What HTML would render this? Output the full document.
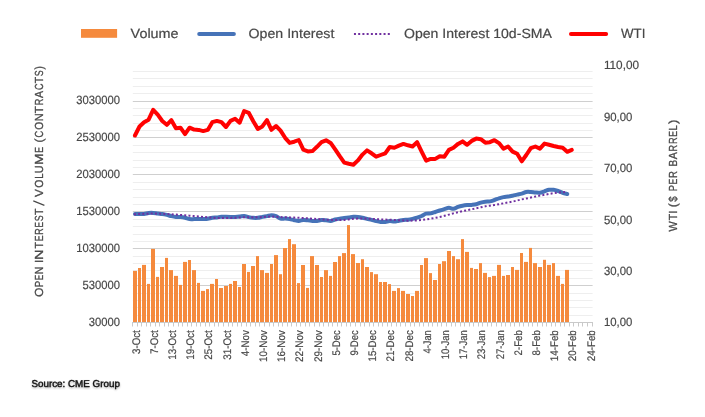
<!DOCTYPE html><html><head><meta charset="utf-8"><title>chart</title>
<style>html,body{margin:0;padding:0;background:#fff;overflow:hidden}svg{display:block}text{font-family:"Liberation Sans",sans-serif;text-rendering:geometricPrecision;stroke:#484848;stroke-width:0.2px}</style></head><body>
<svg width="705" height="417" viewBox="0 0 705 417">
<rect width="705" height="417" fill="#fff"/>
<line x1="132.8" x2="592.6" y1="71.5" y2="71.5" stroke="#eeeeee" stroke-width="1"/>
<line x1="132.8" x2="592.6" y1="78.5" y2="78.5" stroke="#eeeeee" stroke-width="1"/>
<line x1="132.8" x2="592.6" y1="86.5" y2="86.5" stroke="#eeeeee" stroke-width="1"/>
<line x1="132.8" x2="592.6" y1="93.5" y2="93.5" stroke="#eeeeee" stroke-width="1"/>
<line x1="132.8" x2="592.6" y1="101.5" y2="101.5" stroke="#cfcfcf" stroke-width="1"/>
<line x1="132.8" x2="592.6" y1="108.5" y2="108.5" stroke="#eeeeee" stroke-width="1"/>
<line x1="132.8" x2="592.6" y1="115.5" y2="115.5" stroke="#eeeeee" stroke-width="1"/>
<line x1="132.8" x2="592.6" y1="123.5" y2="123.5" stroke="#eeeeee" stroke-width="1"/>
<line x1="132.8" x2="592.6" y1="130.5" y2="130.5" stroke="#eeeeee" stroke-width="1"/>
<line x1="132.8" x2="592.6" y1="137.5" y2="137.5" stroke="#cfcfcf" stroke-width="1"/>
<line x1="132.8" x2="592.6" y1="145.5" y2="145.5" stroke="#eeeeee" stroke-width="1"/>
<line x1="132.8" x2="592.6" y1="152.5" y2="152.5" stroke="#eeeeee" stroke-width="1"/>
<line x1="132.8" x2="592.6" y1="160.5" y2="160.5" stroke="#eeeeee" stroke-width="1"/>
<line x1="132.8" x2="592.6" y1="167.5" y2="167.5" stroke="#eeeeee" stroke-width="1"/>
<line x1="132.8" x2="592.6" y1="174.5" y2="174.5" stroke="#cfcfcf" stroke-width="1"/>
<line x1="132.8" x2="592.6" y1="182.5" y2="182.5" stroke="#eeeeee" stroke-width="1"/>
<line x1="132.8" x2="592.6" y1="189.5" y2="189.5" stroke="#eeeeee" stroke-width="1"/>
<line x1="132.8" x2="592.6" y1="197.5" y2="197.5" stroke="#eeeeee" stroke-width="1"/>
<line x1="132.8" x2="592.6" y1="204.5" y2="204.5" stroke="#eeeeee" stroke-width="1"/>
<line x1="132.8" x2="592.6" y1="211.5" y2="211.5" stroke="#cfcfcf" stroke-width="1"/>
<line x1="132.8" x2="592.6" y1="219.5" y2="219.5" stroke="#eeeeee" stroke-width="1"/>
<line x1="132.8" x2="592.6" y1="226.5" y2="226.5" stroke="#eeeeee" stroke-width="1"/>
<line x1="132.8" x2="592.6" y1="234.5" y2="234.5" stroke="#eeeeee" stroke-width="1"/>
<line x1="132.8" x2="592.6" y1="241.5" y2="241.5" stroke="#eeeeee" stroke-width="1"/>
<line x1="132.8" x2="592.6" y1="248.5" y2="248.5" stroke="#cfcfcf" stroke-width="1"/>
<line x1="132.8" x2="592.6" y1="256.5" y2="256.5" stroke="#eeeeee" stroke-width="1"/>
<line x1="132.8" x2="592.6" y1="263.5" y2="263.5" stroke="#eeeeee" stroke-width="1"/>
<line x1="132.8" x2="592.6" y1="270.5" y2="270.5" stroke="#eeeeee" stroke-width="1"/>
<line x1="132.8" x2="592.6" y1="278.5" y2="278.5" stroke="#eeeeee" stroke-width="1"/>
<line x1="132.8" x2="592.6" y1="285.5" y2="285.5" stroke="#cfcfcf" stroke-width="1"/>
<line x1="132.8" x2="592.6" y1="293.5" y2="293.5" stroke="#eeeeee" stroke-width="1"/>
<line x1="132.8" x2="592.6" y1="300.5" y2="300.5" stroke="#eeeeee" stroke-width="1"/>
<line x1="132.8" x2="592.6" y1="307.5" y2="307.5" stroke="#eeeeee" stroke-width="1"/>
<line x1="132.8" x2="592.6" y1="315.5" y2="315.5" stroke="#eeeeee" stroke-width="1"/>
<rect x="133" y="270.9" width="4" height="51.1" fill="#F58A3D"/>
<rect x="138" y="268.0" width="3" height="54.0" fill="#F58A3D"/>
<rect x="142" y="264.9" width="4" height="57.1" fill="#F58A3D"/>
<rect x="147" y="283.9" width="3" height="38.1" fill="#F58A3D"/>
<rect x="151" y="248.9" width="4" height="73.1" fill="#F58A3D"/>
<rect x="156" y="276.9" width="3" height="45.1" fill="#F58A3D"/>
<rect x="160" y="267.0" width="4" height="55.0" fill="#F58A3D"/>
<rect x="165" y="257.9" width="3" height="64.1" fill="#F58A3D"/>
<rect x="169" y="270.1" width="4" height="51.9" fill="#F58A3D"/>
<rect x="174" y="275.9" width="4" height="46.1" fill="#F58A3D"/>
<rect x="179" y="284.9" width="3" height="37.1" fill="#F58A3D"/>
<rect x="183" y="261.9" width="4" height="60.1" fill="#F58A3D"/>
<rect x="188" y="260.0" width="3" height="62.0" fill="#F58A3D"/>
<rect x="192" y="270.1" width="4" height="51.9" fill="#F58A3D"/>
<rect x="197" y="282.9" width="3" height="39.1" fill="#F58A3D"/>
<rect x="201" y="290.9" width="4" height="31.1" fill="#F58A3D"/>
<rect x="206" y="289.1" width="3" height="32.9" fill="#F58A3D"/>
<rect x="210" y="283.9" width="4" height="38.1" fill="#F58A3D"/>
<rect x="215" y="279.0" width="3" height="43.0" fill="#F58A3D"/>
<rect x="219" y="288.0" width="4" height="34.0" fill="#F58A3D"/>
<rect x="224" y="286.0" width="4" height="36.0" fill="#F58A3D"/>
<rect x="229" y="283.9" width="3" height="38.1" fill="#F58A3D"/>
<rect x="233" y="281.0" width="4" height="41.0" fill="#F58A3D"/>
<rect x="238" y="287.0" width="3" height="35.0" fill="#F58A3D"/>
<rect x="242" y="264.0" width="4" height="58.0" fill="#F58A3D"/>
<rect x="247" y="271.9" width="3" height="50.1" fill="#F58A3D"/>
<rect x="251" y="266.0" width="4" height="56.0" fill="#F58A3D"/>
<rect x="256" y="256.1" width="3" height="65.9" fill="#F58A3D"/>
<rect x="260" y="270.1" width="4" height="51.9" fill="#F58A3D"/>
<rect x="265" y="272.9" width="4" height="49.1" fill="#F58A3D"/>
<rect x="270" y="264.0" width="3" height="58.0" fill="#F58A3D"/>
<rect x="274" y="255.1" width="4" height="66.9" fill="#F58A3D"/>
<rect x="279" y="274.2" width="3" height="47.8" fill="#F58A3D"/>
<rect x="283" y="248.0" width="4" height="74.0" fill="#F58A3D"/>
<rect x="288" y="239.1" width="3" height="82.9" fill="#F58A3D"/>
<rect x="292" y="244.2" width="4" height="77.8" fill="#F58A3D"/>
<rect x="297" y="283.1" width="3" height="38.9" fill="#F58A3D"/>
<rect x="301" y="265.0" width="4" height="57.0" fill="#F58A3D"/>
<rect x="306" y="287.9" width="3" height="34.1" fill="#F58A3D"/>
<rect x="310" y="256.1" width="4" height="65.9" fill="#F58A3D"/>
<rect x="315" y="265.0" width="4" height="57.0" fill="#F58A3D"/>
<rect x="320" y="277.0" width="3" height="45.0" fill="#F58A3D"/>
<rect x="324" y="270.1" width="4" height="51.9" fill="#F58A3D"/>
<rect x="329" y="275.9" width="3" height="46.1" fill="#F58A3D"/>
<rect x="333" y="262.0" width="4" height="60.0" fill="#F58A3D"/>
<rect x="338" y="256.1" width="3" height="65.9" fill="#F58A3D"/>
<rect x="342" y="253.1" width="4" height="68.9" fill="#F58A3D"/>
<rect x="347" y="225.1" width="3" height="96.9" fill="#F58A3D"/>
<rect x="351" y="254.1" width="4" height="67.9" fill="#F58A3D"/>
<rect x="356" y="263.0" width="4" height="59.0" fill="#F58A3D"/>
<rect x="361" y="259.2" width="3" height="62.8" fill="#F58A3D"/>
<rect x="365" y="267.0" width="4" height="55.0" fill="#F58A3D"/>
<rect x="370" y="272.1" width="3" height="49.9" fill="#F58A3D"/>
<rect x="374" y="274.2" width="4" height="47.8" fill="#F58A3D"/>
<rect x="379" y="282.0" width="3" height="40.0" fill="#F58A3D"/>
<rect x="383" y="282.0" width="4" height="40.0" fill="#F58A3D"/>
<rect x="388" y="284.1" width="3" height="37.9" fill="#F58A3D"/>
<rect x="392" y="290.9" width="4" height="31.1" fill="#F58A3D"/>
<rect x="397" y="288.1" width="3" height="33.9" fill="#F58A3D"/>
<rect x="401" y="290.9" width="4" height="31.1" fill="#F58A3D"/>
<rect x="406" y="294.0" width="4" height="28.0" fill="#F58A3D"/>
<rect x="411" y="296.0" width="3" height="26.0" fill="#F58A3D"/>
<rect x="415" y="290.9" width="4" height="31.1" fill="#F58A3D"/>
<rect x="420" y="265.0" width="3" height="57.0" fill="#F58A3D"/>
<rect x="424" y="258.1" width="4" height="63.9" fill="#F58A3D"/>
<rect x="429" y="273.1" width="3" height="48.9" fill="#F58A3D"/>
<rect x="433" y="280.0" width="4" height="42.0" fill="#F58A3D"/>
<rect x="438" y="264.0" width="3" height="58.0" fill="#F58A3D"/>
<rect x="442" y="261.2" width="4" height="60.8" fill="#F58A3D"/>
<rect x="447" y="251.0" width="4" height="71.0" fill="#F58A3D"/>
<rect x="452" y="256.1" width="3" height="65.9" fill="#F58A3D"/>
<rect x="456" y="259.2" width="4" height="62.8" fill="#F58A3D"/>
<rect x="461" y="239.1" width="3" height="82.9" fill="#F58A3D"/>
<rect x="465" y="251.9" width="4" height="70.1" fill="#F58A3D"/>
<rect x="470" y="267.9" width="3" height="54.1" fill="#F58A3D"/>
<rect x="474" y="269.0" width="4" height="53.0" fill="#F58A3D"/>
<rect x="479" y="263.1" width="3" height="58.9" fill="#F58A3D"/>
<rect x="483" y="272.9" width="4" height="49.1" fill="#F58A3D"/>
<rect x="488" y="277.1" width="3" height="44.9" fill="#F58A3D"/>
<rect x="492" y="275.9" width="4" height="46.1" fill="#F58A3D"/>
<rect x="497" y="264.9" width="4" height="57.1" fill="#F58A3D"/>
<rect x="502" y="275.9" width="3" height="46.1" fill="#F58A3D"/>
<rect x="506" y="275.0" width="4" height="47.0" fill="#F58A3D"/>
<rect x="511" y="267.0" width="3" height="55.0" fill="#F58A3D"/>
<rect x="515" y="269.9" width="4" height="52.1" fill="#F58A3D"/>
<rect x="520" y="253.0" width="3" height="69.0" fill="#F58A3D"/>
<rect x="524" y="261.9" width="4" height="60.1" fill="#F58A3D"/>
<rect x="529" y="247.9" width="3" height="74.1" fill="#F58A3D"/>
<rect x="533" y="263.1" width="4" height="58.9" fill="#F58A3D"/>
<rect x="538" y="267.0" width="4" height="55.0" fill="#F58A3D"/>
<rect x="543" y="259.8" width="3" height="62.2" fill="#F58A3D"/>
<rect x="547" y="264.9" width="4" height="57.1" fill="#F58A3D"/>
<rect x="552" y="263.1" width="3" height="58.9" fill="#F58A3D"/>
<rect x="556" y="275.9" width="4" height="46.1" fill="#F58A3D"/>
<rect x="561" y="283.9" width="3" height="38.1" fill="#F58A3D"/>
<rect x="565" y="269.9" width="4" height="52.1" fill="#F58A3D"/>
<line x1="132.0" x2="592.6" y1="322.5" y2="322.5" stroke="#c9c9c9" stroke-width="1"/>
<line x1="132.5" x2="132.5" y1="322.0" y2="326.5" stroke="#c9c9c9" stroke-width="1"/>
<line x1="137.5" x2="137.5" y1="322.0" y2="326.5" stroke="#c9c9c9" stroke-width="1"/>
<line x1="141.5" x2="141.5" y1="322.0" y2="326.5" stroke="#c9c9c9" stroke-width="1"/>
<line x1="146.5" x2="146.5" y1="322.0" y2="326.5" stroke="#c9c9c9" stroke-width="1"/>
<line x1="150.5" x2="150.5" y1="322.0" y2="326.5" stroke="#c9c9c9" stroke-width="1"/>
<line x1="155.5" x2="155.5" y1="322.0" y2="326.5" stroke="#c9c9c9" stroke-width="1"/>
<line x1="159.5" x2="159.5" y1="322.0" y2="326.5" stroke="#c9c9c9" stroke-width="1"/>
<line x1="164.5" x2="164.5" y1="322.0" y2="326.5" stroke="#c9c9c9" stroke-width="1"/>
<line x1="168.5" x2="168.5" y1="322.0" y2="326.5" stroke="#c9c9c9" stroke-width="1"/>
<line x1="173.5" x2="173.5" y1="322.0" y2="326.5" stroke="#c9c9c9" stroke-width="1"/>
<line x1="178.5" x2="178.5" y1="322.0" y2="326.5" stroke="#c9c9c9" stroke-width="1"/>
<line x1="182.5" x2="182.5" y1="322.0" y2="326.5" stroke="#c9c9c9" stroke-width="1"/>
<line x1="187.5" x2="187.5" y1="322.0" y2="326.5" stroke="#c9c9c9" stroke-width="1"/>
<line x1="191.5" x2="191.5" y1="322.0" y2="326.5" stroke="#c9c9c9" stroke-width="1"/>
<line x1="196.5" x2="196.5" y1="322.0" y2="326.5" stroke="#c9c9c9" stroke-width="1"/>
<line x1="200.5" x2="200.5" y1="322.0" y2="326.5" stroke="#c9c9c9" stroke-width="1"/>
<line x1="205.5" x2="205.5" y1="322.0" y2="326.5" stroke="#c9c9c9" stroke-width="1"/>
<line x1="209.5" x2="209.5" y1="322.0" y2="326.5" stroke="#c9c9c9" stroke-width="1"/>
<line x1="214.5" x2="214.5" y1="322.0" y2="326.5" stroke="#c9c9c9" stroke-width="1"/>
<line x1="218.5" x2="218.5" y1="322.0" y2="326.5" stroke="#c9c9c9" stroke-width="1"/>
<line x1="223.5" x2="223.5" y1="322.0" y2="326.5" stroke="#c9c9c9" stroke-width="1"/>
<line x1="228.5" x2="228.5" y1="322.0" y2="326.5" stroke="#c9c9c9" stroke-width="1"/>
<line x1="232.5" x2="232.5" y1="322.0" y2="326.5" stroke="#c9c9c9" stroke-width="1"/>
<line x1="237.5" x2="237.5" y1="322.0" y2="326.5" stroke="#c9c9c9" stroke-width="1"/>
<line x1="241.5" x2="241.5" y1="322.0" y2="326.5" stroke="#c9c9c9" stroke-width="1"/>
<line x1="246.5" x2="246.5" y1="322.0" y2="326.5" stroke="#c9c9c9" stroke-width="1"/>
<line x1="250.5" x2="250.5" y1="322.0" y2="326.5" stroke="#c9c9c9" stroke-width="1"/>
<line x1="255.5" x2="255.5" y1="322.0" y2="326.5" stroke="#c9c9c9" stroke-width="1"/>
<line x1="259.5" x2="259.5" y1="322.0" y2="326.5" stroke="#c9c9c9" stroke-width="1"/>
<line x1="264.5" x2="264.5" y1="322.0" y2="326.5" stroke="#c9c9c9" stroke-width="1"/>
<line x1="269.5" x2="269.5" y1="322.0" y2="326.5" stroke="#c9c9c9" stroke-width="1"/>
<line x1="273.5" x2="273.5" y1="322.0" y2="326.5" stroke="#c9c9c9" stroke-width="1"/>
<line x1="278.5" x2="278.5" y1="322.0" y2="326.5" stroke="#c9c9c9" stroke-width="1"/>
<line x1="282.5" x2="282.5" y1="322.0" y2="326.5" stroke="#c9c9c9" stroke-width="1"/>
<line x1="287.5" x2="287.5" y1="322.0" y2="326.5" stroke="#c9c9c9" stroke-width="1"/>
<line x1="291.5" x2="291.5" y1="322.0" y2="326.5" stroke="#c9c9c9" stroke-width="1"/>
<line x1="296.5" x2="296.5" y1="322.0" y2="326.5" stroke="#c9c9c9" stroke-width="1"/>
<line x1="300.5" x2="300.5" y1="322.0" y2="326.5" stroke="#c9c9c9" stroke-width="1"/>
<line x1="305.5" x2="305.5" y1="322.0" y2="326.5" stroke="#c9c9c9" stroke-width="1"/>
<line x1="309.5" x2="309.5" y1="322.0" y2="326.5" stroke="#c9c9c9" stroke-width="1"/>
<line x1="314.5" x2="314.5" y1="322.0" y2="326.5" stroke="#c9c9c9" stroke-width="1"/>
<line x1="319.5" x2="319.5" y1="322.0" y2="326.5" stroke="#c9c9c9" stroke-width="1"/>
<line x1="323.5" x2="323.5" y1="322.0" y2="326.5" stroke="#c9c9c9" stroke-width="1"/>
<line x1="328.5" x2="328.5" y1="322.0" y2="326.5" stroke="#c9c9c9" stroke-width="1"/>
<line x1="332.5" x2="332.5" y1="322.0" y2="326.5" stroke="#c9c9c9" stroke-width="1"/>
<line x1="337.5" x2="337.5" y1="322.0" y2="326.5" stroke="#c9c9c9" stroke-width="1"/>
<line x1="341.5" x2="341.5" y1="322.0" y2="326.5" stroke="#c9c9c9" stroke-width="1"/>
<line x1="346.5" x2="346.5" y1="322.0" y2="326.5" stroke="#c9c9c9" stroke-width="1"/>
<line x1="350.5" x2="350.5" y1="322.0" y2="326.5" stroke="#c9c9c9" stroke-width="1"/>
<line x1="355.5" x2="355.5" y1="322.0" y2="326.5" stroke="#c9c9c9" stroke-width="1"/>
<line x1="360.5" x2="360.5" y1="322.0" y2="326.5" stroke="#c9c9c9" stroke-width="1"/>
<line x1="364.5" x2="364.5" y1="322.0" y2="326.5" stroke="#c9c9c9" stroke-width="1"/>
<line x1="369.5" x2="369.5" y1="322.0" y2="326.5" stroke="#c9c9c9" stroke-width="1"/>
<line x1="373.5" x2="373.5" y1="322.0" y2="326.5" stroke="#c9c9c9" stroke-width="1"/>
<line x1="378.5" x2="378.5" y1="322.0" y2="326.5" stroke="#c9c9c9" stroke-width="1"/>
<line x1="382.5" x2="382.5" y1="322.0" y2="326.5" stroke="#c9c9c9" stroke-width="1"/>
<line x1="387.5" x2="387.5" y1="322.0" y2="326.5" stroke="#c9c9c9" stroke-width="1"/>
<line x1="391.5" x2="391.5" y1="322.0" y2="326.5" stroke="#c9c9c9" stroke-width="1"/>
<line x1="396.5" x2="396.5" y1="322.0" y2="326.5" stroke="#c9c9c9" stroke-width="1"/>
<line x1="400.5" x2="400.5" y1="322.0" y2="326.5" stroke="#c9c9c9" stroke-width="1"/>
<line x1="405.5" x2="405.5" y1="322.0" y2="326.5" stroke="#c9c9c9" stroke-width="1"/>
<line x1="410.5" x2="410.5" y1="322.0" y2="326.5" stroke="#c9c9c9" stroke-width="1"/>
<line x1="414.5" x2="414.5" y1="322.0" y2="326.5" stroke="#c9c9c9" stroke-width="1"/>
<line x1="419.5" x2="419.5" y1="322.0" y2="326.5" stroke="#c9c9c9" stroke-width="1"/>
<line x1="423.5" x2="423.5" y1="322.0" y2="326.5" stroke="#c9c9c9" stroke-width="1"/>
<line x1="428.5" x2="428.5" y1="322.0" y2="326.5" stroke="#c9c9c9" stroke-width="1"/>
<line x1="432.5" x2="432.5" y1="322.0" y2="326.5" stroke="#c9c9c9" stroke-width="1"/>
<line x1="437.5" x2="437.5" y1="322.0" y2="326.5" stroke="#c9c9c9" stroke-width="1"/>
<line x1="441.5" x2="441.5" y1="322.0" y2="326.5" stroke="#c9c9c9" stroke-width="1"/>
<line x1="446.5" x2="446.5" y1="322.0" y2="326.5" stroke="#c9c9c9" stroke-width="1"/>
<line x1="451.5" x2="451.5" y1="322.0" y2="326.5" stroke="#c9c9c9" stroke-width="1"/>
<line x1="455.5" x2="455.5" y1="322.0" y2="326.5" stroke="#c9c9c9" stroke-width="1"/>
<line x1="460.5" x2="460.5" y1="322.0" y2="326.5" stroke="#c9c9c9" stroke-width="1"/>
<line x1="464.5" x2="464.5" y1="322.0" y2="326.5" stroke="#c9c9c9" stroke-width="1"/>
<line x1="469.5" x2="469.5" y1="322.0" y2="326.5" stroke="#c9c9c9" stroke-width="1"/>
<line x1="473.5" x2="473.5" y1="322.0" y2="326.5" stroke="#c9c9c9" stroke-width="1"/>
<line x1="478.5" x2="478.5" y1="322.0" y2="326.5" stroke="#c9c9c9" stroke-width="1"/>
<line x1="482.5" x2="482.5" y1="322.0" y2="326.5" stroke="#c9c9c9" stroke-width="1"/>
<line x1="487.5" x2="487.5" y1="322.0" y2="326.5" stroke="#c9c9c9" stroke-width="1"/>
<line x1="491.5" x2="491.5" y1="322.0" y2="326.5" stroke="#c9c9c9" stroke-width="1"/>
<line x1="496.5" x2="496.5" y1="322.0" y2="326.5" stroke="#c9c9c9" stroke-width="1"/>
<line x1="501.5" x2="501.5" y1="322.0" y2="326.5" stroke="#c9c9c9" stroke-width="1"/>
<line x1="505.5" x2="505.5" y1="322.0" y2="326.5" stroke="#c9c9c9" stroke-width="1"/>
<line x1="510.5" x2="510.5" y1="322.0" y2="326.5" stroke="#c9c9c9" stroke-width="1"/>
<line x1="514.5" x2="514.5" y1="322.0" y2="326.5" stroke="#c9c9c9" stroke-width="1"/>
<line x1="519.5" x2="519.5" y1="322.0" y2="326.5" stroke="#c9c9c9" stroke-width="1"/>
<line x1="523.5" x2="523.5" y1="322.0" y2="326.5" stroke="#c9c9c9" stroke-width="1"/>
<line x1="528.5" x2="528.5" y1="322.0" y2="326.5" stroke="#c9c9c9" stroke-width="1"/>
<line x1="532.5" x2="532.5" y1="322.0" y2="326.5" stroke="#c9c9c9" stroke-width="1"/>
<line x1="537.5" x2="537.5" y1="322.0" y2="326.5" stroke="#c9c9c9" stroke-width="1"/>
<line x1="542.5" x2="542.5" y1="322.0" y2="326.5" stroke="#c9c9c9" stroke-width="1"/>
<line x1="546.5" x2="546.5" y1="322.0" y2="326.5" stroke="#c9c9c9" stroke-width="1"/>
<line x1="551.5" x2="551.5" y1="322.0" y2="326.5" stroke="#c9c9c9" stroke-width="1"/>
<line x1="555.5" x2="555.5" y1="322.0" y2="326.5" stroke="#c9c9c9" stroke-width="1"/>
<line x1="560.5" x2="560.5" y1="322.0" y2="326.5" stroke="#c9c9c9" stroke-width="1"/>
<line x1="564.5" x2="564.5" y1="322.0" y2="326.5" stroke="#c9c9c9" stroke-width="1"/>
<line x1="569.5" x2="569.5" y1="322.0" y2="326.5" stroke="#c9c9c9" stroke-width="1"/>
<line x1="573.5" x2="573.5" y1="322.0" y2="326.5" stroke="#c9c9c9" stroke-width="1"/>
<line x1="578.5" x2="578.5" y1="322.0" y2="326.5" stroke="#c9c9c9" stroke-width="1"/>
<line x1="582.5" x2="582.5" y1="322.0" y2="326.5" stroke="#c9c9c9" stroke-width="1"/>
<line x1="587.5" x2="587.5" y1="322.0" y2="326.5" stroke="#c9c9c9" stroke-width="1"/>
<line x1="592.5" x2="592.5" y1="322.0" y2="326.5" stroke="#c9c9c9" stroke-width="1"/>
<path d="M134.97 214.00 C135.73 214.00 138.01 214.02 139.52 214.00 C141.04 213.98 142.56 214.07 144.07 213.90 C145.59 213.73 147.11 213.17 148.62 213.00 C150.14 212.83 151.66 212.82 153.17 212.90 C154.69 212.98 156.21 213.32 157.72 213.50 C159.24 213.68 160.76 213.77 162.27 214.00 C163.79 214.23 165.31 214.55 166.82 214.90 C168.34 215.25 169.86 215.77 171.38 216.10 C172.89 216.43 174.41 216.73 175.92 216.90 C177.44 217.07 178.96 216.95 180.47 217.10 C181.99 217.25 183.51 217.47 185.02 217.80 C186.54 218.13 188.06 218.88 189.57 219.10 C191.09 219.32 192.61 219.10 194.12 219.10 C195.64 219.10 197.16 219.12 198.67 219.10 C200.19 219.08 201.71 219.05 203.22 219.00 C204.74 218.95 206.26 219.00 207.77 218.80 C209.29 218.60 210.81 218.03 212.32 217.80 C213.84 217.57 215.36 217.57 216.88 217.40 C218.39 217.23 219.91 216.90 221.42 216.80 C222.94 216.70 224.46 216.78 225.97 216.80 C227.49 216.82 229.01 216.88 230.52 216.90 C232.04 216.92 233.56 216.95 235.07 216.90 C236.59 216.85 238.11 216.75 239.62 216.60 C241.14 216.45 242.66 215.92 244.17 216.00 C245.69 216.08 247.21 216.80 248.72 217.10 C250.24 217.40 251.76 217.68 253.27 217.80 C254.79 217.92 256.31 217.95 257.82 217.80 C259.34 217.65 260.86 217.18 262.37 216.90 C263.89 216.62 265.41 216.38 266.93 216.10 C268.44 215.82 269.96 215.20 271.47 215.20 C272.99 215.20 274.51 215.53 276.02 216.10 C277.54 216.67 279.06 218.18 280.57 218.60 C282.09 219.02 283.61 218.52 285.12 218.60 C286.64 218.68 288.16 218.83 289.68 219.10 C291.19 219.37 292.71 219.90 294.22 220.20 C295.74 220.50 297.26 220.93 298.77 220.90 C300.29 220.87 301.81 220.10 303.32 220.00 C304.84 219.90 306.36 220.15 307.87 220.30 C309.39 220.45 310.91 220.80 312.43 220.90 C313.94 221.00 315.46 221.05 316.97 220.90 C318.49 220.75 320.01 220.10 321.52 220.00 C323.04 219.90 324.56 220.15 326.07 220.30 C327.59 220.45 329.11 221.03 330.62 220.90 C332.14 220.77 333.66 219.88 335.18 219.50 C336.69 219.12 338.21 218.85 339.72 218.60 C341.24 218.35 342.76 218.20 344.27 218.00 C345.79 217.80 347.31 217.60 348.82 217.40 C350.34 217.20 351.86 216.88 353.37 216.80 C354.89 216.72 356.41 216.75 357.93 216.90 C359.44 217.05 360.96 217.37 362.47 217.70 C363.99 218.03 365.51 218.53 367.02 218.90 C368.54 219.27 370.06 219.53 371.57 219.90 C373.09 220.27 374.61 220.77 376.12 221.10 C377.64 221.43 379.16 221.77 380.68 221.90 C382.19 222.03 383.71 222.03 385.22 221.90 C386.74 221.77 388.26 221.15 389.77 221.10 C391.29 221.05 392.81 221.67 394.32 221.60 C395.84 221.53 397.36 220.98 398.88 220.70 C400.39 220.42 401.91 220.07 403.42 219.90 C404.94 219.73 406.46 219.87 407.97 219.70 C409.49 219.53 411.01 219.23 412.52 218.90 C414.04 218.57 415.56 218.18 417.07 217.70 C418.59 217.22 420.11 216.67 421.62 216.00 C423.14 215.33 424.66 214.13 426.17 213.70 C427.69 213.27 429.21 213.68 430.72 213.40 C432.24 213.12 433.76 212.48 435.27 212.00 C436.79 211.52 438.31 210.98 439.82 210.50 C441.34 210.02 442.86 209.55 444.38 209.10 C445.89 208.65 447.41 207.85 448.92 207.80 C450.44 207.75 451.96 208.95 453.47 208.80 C454.99 208.65 456.51 207.42 458.02 206.90 C459.54 206.38 461.06 206.00 462.57 205.70 C464.09 205.40 465.61 205.23 467.12 205.10 C468.64 204.97 470.16 205.03 471.67 204.90 C473.19 204.77 474.71 204.68 476.22 204.30 C477.74 203.92 479.26 203.03 480.77 202.60 C482.29 202.17 483.81 201.90 485.32 201.70 C486.84 201.50 488.36 201.68 489.88 201.40 C491.39 201.12 492.91 200.52 494.42 200.00 C495.94 199.48 497.46 198.78 498.97 198.30 C500.49 197.82 502.01 197.38 503.52 197.10 C505.04 196.82 506.56 196.83 508.07 196.60 C509.59 196.37 511.11 196.03 512.62 195.70 C514.14 195.37 515.66 194.93 517.17 194.60 C518.69 194.27 520.21 194.13 521.73 193.70 C523.24 193.27 524.76 192.28 526.28 192.00 C527.79 191.72 529.31 191.92 530.83 192.00 C532.34 192.08 533.86 192.38 535.38 192.50 C536.89 192.62 538.41 192.90 539.92 192.70 C541.44 192.50 542.96 191.78 544.48 191.30 C545.99 190.82 547.51 190.05 549.03 189.80 C550.54 189.55 552.06 189.60 553.58 189.80 C555.09 190.00 556.61 190.50 558.12 191.00 C559.64 191.50 561.16 192.30 562.67 192.80 C564.19 193.30 566.47 193.80 567.23 194.00" fill="none" stroke="#4673B8" stroke-width="4" stroke-linecap="round" stroke-linejoin="round"/>
<path d="M133.92 214.2 L134.97 214.2 L139.52 214.0 L144.07 213.8 L148.62 213.7 L153.17 213.5 L157.72 213.7 L162.27 213.8 L166.82 214.0 L171.38 214.3 L175.92 214.6 L180.47 214.9 L185.02 215.3 L189.57 215.7 L194.12 216.1 L198.67 216.4 L203.22 216.9 L207.77 217.3 L212.32 217.7 L216.88 218.0 L221.42 218.0 L225.97 218.0 L230.52 217.9 L235.07 217.8 L239.62 217.5 L244.17 217.2 L248.72 217.3 L253.27 217.4 L257.82 217.2 L262.37 217.1 L266.93 216.8 L271.47 216.4 L276.02 216.8 L280.57 217.1 L285.12 217.2 L289.68 217.4 L294.22 217.6 L298.77 217.8 L303.32 218.1 L307.87 218.3 L312.43 218.7 L316.97 219.0 L321.52 219.3 L326.07 219.7 L330.62 219.8 L335.18 220.0 L339.72 220.0 L344.27 220.0 L348.82 219.4 L353.37 218.8 L357.93 218.6 L362.47 218.4 L367.02 218.7 L371.57 218.9 L376.12 219.2 L380.68 219.4 L385.22 219.6 L389.77 219.7 L394.32 219.9 L398.88 220.2 L403.42 220.4 L407.97 220.7 L412.52 220.6 L417.07 220.6 L421.62 220.0 L426.17 219.4 L430.72 218.7 L435.27 217.9 L439.82 216.9 L444.38 215.8 L448.92 214.6 L453.47 213.4 L458.02 212.2 L462.57 211.1 L467.12 210.2 L471.67 209.3 L476.22 208.3 L480.77 207.3 L485.32 206.3 L489.88 205.7 L494.42 205.0 L498.97 204.2 L503.52 203.3 L508.07 202.4 L512.62 201.6 L517.17 200.5 L521.73 199.4 L526.28 198.5 L530.83 197.6 L535.38 196.6 L539.92 195.6 L544.48 194.8 L549.03 193.9 L553.58 193.2 L558.12 192.5 L562.67 192.2 L567.23 192.0" fill="none" stroke="#7030A0" stroke-width="2" stroke-dasharray="2 2.2"/>
<path d="M134.97 135.5 L139.52 126.5 L144.07 122.2 L148.62 119.7 L153.17 109.8 L157.72 114.6 L162.27 121.0 L166.82 124.8 L171.38 120.2 L175.92 128.2 L180.47 127.7 L185.02 134.1 L189.57 127.7 L194.12 129.6 L198.67 129.9 L203.22 131.1 L207.77 129.9 L212.32 122.2 L216.88 120.9 L221.42 122.2 L225.97 127.0 L230.52 120.9 L235.07 118.8 L239.62 122.7 L244.17 111.0 L248.72 112.8 L253.27 121.3 L257.82 128.9 L262.37 126.4 L266.93 120.1 L271.47 129.8 L276.02 126.0 L280.57 130.6 L285.12 137.8 L289.68 142.9 L294.22 141.7 L298.77 140.0 L303.32 149.7 L307.87 151.4 L312.43 151.1 L316.97 146.8 L321.52 142.2 L326.07 140.3 L330.62 142.9 L335.18 149.4 L339.72 156.2 L344.27 162.6 L348.82 163.8 L353.37 164.7 L357.93 160.4 L362.47 154.6 L367.02 150.4 L371.57 153.3 L376.12 156.7 L380.68 155.0 L385.22 153.3 L389.77 147.0 L394.32 147.7 L398.88 145.6 L403.42 143.9 L407.97 145.3 L412.52 146.5 L417.07 142.2 L421.62 151.6 L426.17 160.6 L430.72 158.9 L435.27 158.9 L439.82 156.2 L444.38 156.7 L448.92 149.9 L453.47 147.7 L458.02 143.9 L462.57 141.4 L467.12 144.8 L471.67 140.9 L476.22 138.6 L480.77 139.2 L485.32 142.7 L489.88 142.2 L494.42 140.2 L498.97 143.1 L503.52 148.7 L508.07 146.5 L512.62 151.6 L517.17 153.8 L521.73 161.3 L526.28 155.0 L530.83 148.2 L535.38 146.5 L539.92 148.7 L544.48 143.6 L549.03 144.8 L553.58 146.0 L558.12 147.0 L562.67 147.7 L567.23 151.8 L571.78 149.9" fill="none" stroke="#FF0101" stroke-width="4" stroke-linecap="round" stroke-linejoin="round"/>
<rect x="81" y="29" width="36.1" height="8.8" fill="#F58A3D"/>
<line x1="199.2" x2="233.9" y1="34" y2="34" stroke="#4673B8" stroke-width="4" stroke-linecap="round"/>
<line x1="353.95" x2="389.9" y1="33.95" y2="33.95" stroke="#7030A0" stroke-width="2" stroke-dasharray="2 2.23"/>
<line x1="571" x2="606.1" y1="34" y2="34" stroke="#FF0101" stroke-width="4" stroke-linecap="round"/>
<g opacity="0.999">
<text x="130.6" y="37.9" font-size="13.3" fill="#484848" font-weight="normal" text-anchor="start" textLength="48.0" lengthAdjust="spacingAndGlyphs" >Volume</text>
<text x="248.6" y="38.0" font-size="13.3" fill="#484848" font-weight="normal" text-anchor="start" textLength="85.8" lengthAdjust="spacingAndGlyphs" >Open Interest</text>
<text x="404.0" y="38.0" font-size="13.3" fill="#484848" font-weight="normal" text-anchor="start" textLength="147.9" lengthAdjust="spacingAndGlyphs" >Open Interest 10d-SMA</text>
<text x="621.1" y="37.9" font-size="13.3" fill="#484848" font-weight="normal" text-anchor="start" textLength="24.3" lengthAdjust="spacingAndGlyphs" >WTI</text>
<text x="88.8" y="325.8" font-size="12.0" fill="#484848" font-weight="normal" text-anchor="start" textLength="31.2" lengthAdjust="spacingAndGlyphs" >30000</text>
<text x="82.6" y="288.8" font-size="12.0" fill="#484848" font-weight="normal" text-anchor="start" textLength="37.4" lengthAdjust="spacingAndGlyphs" >530000</text>
<text x="76.3" y="251.8" font-size="12.0" fill="#484848" font-weight="normal" text-anchor="start" textLength="43.7" lengthAdjust="spacingAndGlyphs" >1030000</text>
<text x="76.3" y="214.8" font-size="12.0" fill="#484848" font-weight="normal" text-anchor="start" textLength="43.7" lengthAdjust="spacingAndGlyphs" >1530000</text>
<text x="76.3" y="177.9" font-size="12.0" fill="#484848" font-weight="normal" text-anchor="start" textLength="43.7" lengthAdjust="spacingAndGlyphs" >2030000</text>
<text x="76.3" y="140.9" font-size="12.0" fill="#484848" font-weight="normal" text-anchor="start" textLength="43.7" lengthAdjust="spacingAndGlyphs" >2530000</text>
<text x="76.3" y="103.9" font-size="12.0" fill="#484848" font-weight="normal" text-anchor="start" textLength="43.7" lengthAdjust="spacingAndGlyphs" >3030000</text>
<text x="603.9" y="326.4" font-size="12.0" fill="#484848" font-weight="normal" text-anchor="start" textLength="28.4" lengthAdjust="spacingAndGlyphs" >10,00</text>
<text x="603.9" y="275.0" font-size="12.0" fill="#484848" font-weight="normal" text-anchor="start" textLength="28.4" lengthAdjust="spacingAndGlyphs" >30,00</text>
<text x="603.9" y="223.5" font-size="12.0" fill="#484848" font-weight="normal" text-anchor="start" textLength="28.4" lengthAdjust="spacingAndGlyphs" >50,00</text>
<text x="603.9" y="172.1" font-size="12.0" fill="#484848" font-weight="normal" text-anchor="start" textLength="28.4" lengthAdjust="spacingAndGlyphs" >70,00</text>
<text x="603.9" y="120.6" font-size="12.0" fill="#484848" font-weight="normal" text-anchor="start" textLength="28.4" lengthAdjust="spacingAndGlyphs" >90,00</text>
<text x="603.9" y="69.2" font-size="12.0" fill="#484848" font-weight="normal" text-anchor="start" textLength="35.1" lengthAdjust="spacingAndGlyphs" >110,00</text>
<text transform="translate(139.67 354.0) rotate(-90)" font-size="11" fill="#484848" textLength="23.8" lengthAdjust="spacingAndGlyphs">3-Oct</text>
<text transform="translate(157.87 354.0) rotate(-90)" font-size="11" fill="#484848" textLength="23.8" lengthAdjust="spacingAndGlyphs">7-Oct</text>
<text transform="translate(176.07 359.8) rotate(-90)" font-size="11" fill="#484848" textLength="29.6" lengthAdjust="spacingAndGlyphs">13-Oct</text>
<text transform="translate(194.27 359.8) rotate(-90)" font-size="11" fill="#484848" textLength="29.6" lengthAdjust="spacingAndGlyphs">19-Oct</text>
<text transform="translate(212.47 359.8) rotate(-90)" font-size="11" fill="#484848" textLength="29.6" lengthAdjust="spacingAndGlyphs">25-Oct</text>
<text transform="translate(230.67 359.8) rotate(-90)" font-size="11" fill="#484848" textLength="29.6" lengthAdjust="spacingAndGlyphs">31-Oct</text>
<text transform="translate(248.87 356.2) rotate(-90)" font-size="11" fill="#484848" textLength="26.0" lengthAdjust="spacingAndGlyphs">4-Nov</text>
<text transform="translate(267.07 362.0) rotate(-90)" font-size="11" fill="#484848" textLength="31.8" lengthAdjust="spacingAndGlyphs">10-Nov</text>
<text transform="translate(285.27 362.0) rotate(-90)" font-size="11" fill="#484848" textLength="31.8" lengthAdjust="spacingAndGlyphs">16-Nov</text>
<text transform="translate(303.47 362.0) rotate(-90)" font-size="11" fill="#484848" textLength="31.8" lengthAdjust="spacingAndGlyphs">22-Nov</text>
<text transform="translate(321.67 362.0) rotate(-90)" font-size="11" fill="#484848" textLength="31.8" lengthAdjust="spacingAndGlyphs">29-Nov</text>
<text transform="translate(339.88 355.6) rotate(-90)" font-size="11" fill="#484848" textLength="25.4" lengthAdjust="spacingAndGlyphs">5-Dec</text>
<text transform="translate(358.07 355.6) rotate(-90)" font-size="11" fill="#484848" textLength="25.4" lengthAdjust="spacingAndGlyphs">9-Dec</text>
<text transform="translate(376.27 361.4) rotate(-90)" font-size="11" fill="#484848" textLength="31.2" lengthAdjust="spacingAndGlyphs">15-Dec</text>
<text transform="translate(394.47 361.4) rotate(-90)" font-size="11" fill="#484848" textLength="31.2" lengthAdjust="spacingAndGlyphs">21-Dec</text>
<text transform="translate(412.67 361.4) rotate(-90)" font-size="11" fill="#484848" textLength="31.2" lengthAdjust="spacingAndGlyphs">28-Dec</text>
<text transform="translate(430.87 353.5) rotate(-90)" font-size="11" fill="#484848" textLength="23.3" lengthAdjust="spacingAndGlyphs">4-Jan</text>
<text transform="translate(449.07 359.3) rotate(-90)" font-size="11" fill="#484848" textLength="29.1" lengthAdjust="spacingAndGlyphs">10-Jan</text>
<text transform="translate(467.27 359.3) rotate(-90)" font-size="11" fill="#484848" textLength="29.1" lengthAdjust="spacingAndGlyphs">17-Jan</text>
<text transform="translate(485.47 359.3) rotate(-90)" font-size="11" fill="#484848" textLength="29.1" lengthAdjust="spacingAndGlyphs">23-Jan</text>
<text transform="translate(503.67 359.3) rotate(-90)" font-size="11" fill="#484848" textLength="29.1" lengthAdjust="spacingAndGlyphs">27-Jan</text>
<text transform="translate(521.88 355.4) rotate(-90)" font-size="11" fill="#484848" textLength="25.2" lengthAdjust="spacingAndGlyphs">2-Feb</text>
<text transform="translate(540.08 355.4) rotate(-90)" font-size="11" fill="#484848" textLength="25.2" lengthAdjust="spacingAndGlyphs">8-Feb</text>
<text transform="translate(558.28 361.2) rotate(-90)" font-size="11" fill="#484848" textLength="31.0" lengthAdjust="spacingAndGlyphs">14-Feb</text>
<text transform="translate(576.48 361.2) rotate(-90)" font-size="11" fill="#484848" textLength="31.0" lengthAdjust="spacingAndGlyphs">20-Feb</text>
<text transform="translate(594.68 361.2) rotate(-90)" font-size="11" fill="#484848" textLength="31.0" lengthAdjust="spacingAndGlyphs">24-Feb</text>
<text transform="translate(42.9 296.45) rotate(-90) scale(1.039 1)" font-size="11.7" fill="#484848" style="stroke-width:0.3px" x="-0.55" y="0">O</text>
<text transform="translate(42.9 286.55) rotate(-90) scale(0.819 1)" font-size="11.7" fill="#484848" style="stroke-width:0.3px" x="-0.96" y="0">P</text>
<text transform="translate(42.9 279.65) rotate(-90) scale(0.694 1)" font-size="11.7" fill="#484848" style="stroke-width:0.3px" x="-0.96" y="0">E</text>
<text transform="translate(42.9 273.35) rotate(-90) scale(0.903 1)" font-size="11.7" fill="#484848" style="stroke-width:0.3px" x="-0.96" y="0">N</text>
<text transform="translate(42.9 261.95) rotate(-90) scale(1.008 1)" font-size="11.7" fill="#484848" style="stroke-width:0.3px" x="-1.08" y="0">I</text>
<text transform="translate(42.9 258.93) rotate(-90) scale(1.250 1)" font-size="11.7" fill="#484848" style="stroke-width:0.3px" x="-0.96" y="0">N</text>
<text transform="translate(42.9 248.35) rotate(-90) scale(0.892 1)" font-size="11.7" fill="#484848" style="stroke-width:0.3px" x="-0.26" y="0">T</text>
<text transform="translate(42.9 240.55) rotate(-90) scale(0.741 1)" font-size="11.7" fill="#484848" style="stroke-width:0.3px" x="-0.96" y="0">E</text>
<text transform="translate(42.9 233.95) rotate(-90) scale(0.763 1)" font-size="11.7" fill="#484848" style="stroke-width:0.3px" x="-0.96" y="0">R</text>
<text transform="translate(42.9 226.75) rotate(-90) scale(0.710 1)" font-size="11.7" fill="#484848" style="stroke-width:0.3px" x="-0.96" y="0">E</text>
<text transform="translate(42.9 220.75) rotate(-90) scale(0.757 1)" font-size="11.7" fill="#484848" style="stroke-width:0.3px" x="-0.53" y="0">S</text>
<text transform="translate(42.9 214.75) rotate(-90) scale(0.892 1)" font-size="11.7" fill="#484848" style="stroke-width:0.3px" x="-0.26" y="0">T</text>
<text transform="translate(42.9 196.85) rotate(-90) scale(1.013 1)" font-size="11.7" fill="#484848" style="stroke-width:0.3px" x="-0.05" y="0">V</text>
<text transform="translate(42.9 187.35) rotate(-90) scale(0.889 1)" font-size="11.7" fill="#484848" style="stroke-width:0.3px" x="-0.55" y="0">O</text>
<text transform="translate(42.9 178.05) rotate(-90) scale(0.814 1)" font-size="11.7" fill="#484848" style="stroke-width:0.3px" x="-0.96" y="0">L</text>
<text transform="translate(42.9 172.35) rotate(-90) scale(0.933 1)" font-size="11.7" fill="#484848" style="stroke-width:0.3px" x="-0.90" y="0">U</text>
<text transform="translate(42.9 163.95) rotate(-90) scale(1.188 1)" font-size="11.7" fill="#484848" style="stroke-width:0.3px" x="-0.96" y="0">M</text>
<text transform="translate(42.9 151.95) rotate(-90) scale(0.741 1)" font-size="11.7" fill="#484848" style="stroke-width:0.3px" x="-0.96" y="0">E</text>
<text transform="translate(42.9 141.75) rotate(-90) scale(1.032 1)" font-size="11.7" fill="#484848" style="stroke-width:0.3px" x="-0.73" y="0">(</text>
<text transform="translate(42.9 136.95) rotate(-90) scale(0.796 1)" font-size="11.7" fill="#484848" style="stroke-width:0.3px" x="-0.59" y="0">C</text>
<text transform="translate(42.9 129.35) rotate(-90) scale(0.876 1)" font-size="11.7" fill="#484848" style="stroke-width:0.3px" x="-0.55" y="0">O</text>
<text transform="translate(42.9 120.45) rotate(-90) scale(0.949 1)" font-size="11.7" fill="#484848" style="stroke-width:0.3px" x="-0.96" y="0">N</text>
<text transform="translate(42.9 112.95) rotate(-90) scale(0.983 1)" font-size="11.7" fill="#484848" style="stroke-width:0.3px" x="-0.26" y="0">T</text>
<text transform="translate(42.9 104.55) rotate(-90) scale(0.777 1)" font-size="11.7" fill="#484848" style="stroke-width:0.3px" x="-0.96" y="0">R</text>
<text transform="translate(42.9 97.95) rotate(-90) scale(0.915 1)" font-size="11.7" fill="#484848" style="stroke-width:0.3px" x="-0.02" y="0">A</text>
<text transform="translate(42.9 89.55) rotate(-90) scale(0.769 1)" font-size="11.7" fill="#484848" style="stroke-width:0.3px" x="-0.59" y="0">C</text>
<text transform="translate(42.9 82.95) rotate(-90) scale(0.892 1)" font-size="11.7" fill="#484848" style="stroke-width:0.3px" x="-0.26" y="0">T</text>
<text transform="translate(42.9 75.75) rotate(-90) scale(0.757 1)" font-size="11.7" fill="#484848" style="stroke-width:0.3px" x="-0.53" y="0">S</text>
<text transform="translate(42.9 69.35) rotate(-90) scale(0.870 1)" font-size="11.7" fill="#484848" style="stroke-width:0.3px" x="-0.07" y="0">)</text>
<text transform="translate(676.7 231.55) rotate(-90) scale(0.922 1)" font-size="11.7" fill="#484848" style="stroke-width:0.3px" x="-0.05" y="0">W</text>
<text transform="translate(676.7 220.15) rotate(-90) scale(0.892 1)" font-size="11.7" fill="#484848" style="stroke-width:0.3px" x="-0.26" y="0">T</text>
<text transform="translate(676.7 212.55) rotate(-90) scale(1.008 1)" font-size="11.7" fill="#484848" style="stroke-width:0.3px" x="-1.08" y="0">I</text>
<text transform="translate(676.7 206.55) rotate(-90) scale(0.999 1)" font-size="11.7" fill="#484848" style="stroke-width:0.3px" x="-0.73" y="0">(</text>
<text transform="translate(676.7 201.75) rotate(-90) scale(0.824 1)" font-size="11.7" fill="#484848" style="stroke-width:0.3px" x="-0.13" y="0">$</text>
<text transform="translate(676.7 190.55) rotate(-90) scale(0.787 1)" font-size="11.7" fill="#484848" style="stroke-width:0.3px" x="-0.96" y="0">P</text>
<text transform="translate(676.7 183.75) rotate(-90) scale(0.741 1)" font-size="11.7" fill="#484848" style="stroke-width:0.3px" x="-0.96" y="0">E</text>
<text transform="translate(676.7 177.15) rotate(-90) scale(0.821 1)" font-size="11.7" fill="#484848" style="stroke-width:0.3px" x="-0.96" y="0">R</text>
<text transform="translate(676.7 165.75) rotate(-90) scale(0.851 1)" font-size="11.7" fill="#484848" style="stroke-width:0.3px" x="-0.96" y="0">B</text>
<text transform="translate(676.7 159.25) rotate(-90) scale(0.915 1)" font-size="11.7" fill="#484848" style="stroke-width:0.3px" x="-0.02" y="0">A</text>
<text transform="translate(676.7 150.65) rotate(-90) scale(0.777 1)" font-size="11.7" fill="#484848" style="stroke-width:0.3px" x="-0.96" y="0">R</text>
<text transform="translate(676.7 143.35) rotate(-90) scale(0.792 1)" font-size="11.7" fill="#484848" style="stroke-width:0.3px" x="-0.96" y="0">R</text>
<text transform="translate(676.7 135.95) rotate(-90) scale(0.741 1)" font-size="11.7" fill="#484848" style="stroke-width:0.3px" x="-0.96" y="0">E</text>
<text transform="translate(676.7 129.65) rotate(-90) scale(0.814 1)" font-size="11.7" fill="#484848" style="stroke-width:0.3px" x="-0.96" y="0">L</text>
<text transform="translate(676.7 123.95) rotate(-90) scale(1.128 1)" font-size="11.7" fill="#484848" style="stroke-width:0.3px" x="-0.07" y="0">)</text>
<line x1="33.3" y1="200.9" x2="44.4" y2="205.4" stroke="#484848" stroke-width="1.15"/>
<defs><filter id="sh" x="-10%" y="-50%" width="120%" height="220%"><feGaussianBlur in="SourceAlpha" stdDeviation="1.1"/><feOffset dy="1.2" result="b"/><feComponentTransfer><feFuncA type="linear" slope="0.35"/></feComponentTransfer><feMerge><feMergeNode/><feMergeNode in="SourceGraphic"/></feMerge></filter></defs>
<text transform="translate(31.4 387.2) scale(1 0.97)" font-size="10.3" font-weight="normal" fill="#111" style="stroke:#111;stroke-width:0.42px" textLength="88.5" lengthAdjust="spacingAndGlyphs" filter="url(#sh)">Source: CME Group</text>
</g>
</svg></body></html>
